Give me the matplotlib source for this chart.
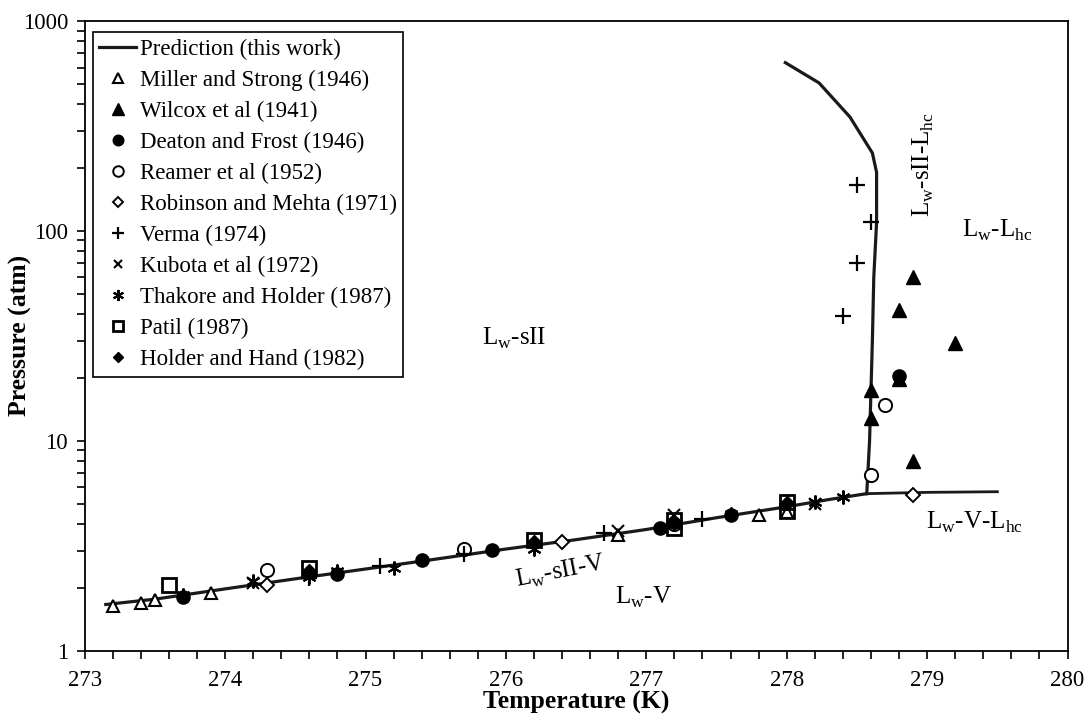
import matplotlib.pyplot as plt
from matplotlib.ticker import MultipleLocator, LogLocator, NullFormatter, FixedLocator
import numpy as np

plt.rcParams['font.family'] = ['Liberation Serif', 'DejaVu Serif']
plt.rcParams['mathtext.fontset'] = 'custom'
plt.rcParams['mathtext.rm'] = 'Liberation Serif'

# prediction curve (three branches)
pred_low_T = [273.15, 273.5, 274.0, 274.5, 275.0, 275.5, 276.0, 276.5, 277.0, 277.5, 278.0, 278.3, 278.57]
pred_low_P = [1.66, 1.76, 1.97, 2.2, 2.45, 2.73, 3.05, 3.38, 3.78, 4.3, 4.85, 5.25, 5.6]
pred_hc_T = [278.57, 279.0, 279.5]
pred_hc_P = [5.6, 5.68, 5.72]
pred_up_T = [278.57, 278.59, 278.61, 278.62, 278.64, 278.64, 278.61, 278.45, 278.23, 277.99]
pred_up_P = [5.6, 10, 30, 60, 110, 190, 235, 349, 507, 633]

# experimental data
miller_T = [273.2, 273.4, 273.5, 273.9, 276.8, 277.8, 278.0]
miller_P = [1.64, 1.69, 1.75, 1.88, 3.55, 4.45, 4.6]
wilcox_T = [278.6, 278.6, 278.8, 278.8, 278.9, 278.9, 279.2]
wilcox_P = [12.8, 17.5, 19.8, 42, 60.6, 8.0, 29.2]
deaton_T = [273.7, 274.8, 275.4, 275.9, 277.1, 277.6, 278.8]
deaton_P = [1.81, 2.33, 2.69, 3.03, 3.84, 4.45, 20.3]
reamer_T = [274.3, 275.7, 277.2, 278.6, 278.7]
reamer_P = [2.43, 3.05, 4.0, 6.9, 14.8]
robinson_T = [274.3, 276.4, 278.9]
robinson_P = [2.06, 3.28, 5.53]
verma_T = [274.6, 275.1, 275.7, 276.7, 277.4, 278.4, 278.5, 278.6, 278.5]
verma_P = [2.22, 2.52, 2.9, 3.63, 4.25, 39.1, 70.2, 110.8, 165.6]
kubota_T = [274.2, 276.8, 277.2, 278.2]
kubota_P = [2.1, 3.7, 4.45, 5.0]
thakore_T = [273.7, 274.2, 274.6, 274.8, 275.2, 276.2, 277.6, 278.2, 278.4]
thakore_P = [1.85, 2.15, 2.25, 2.4, 2.48, 3.05, 4.5, 5.1, 5.4]
patil_T = [273.6, 274.6, 276.2, 277.2, 277.2, 278.0, 278.0]
patil_P = [2.05, 2.48, 3.38, 4.2, 3.85, 5.1, 4.65]
holder_T = [274.6, 276.2, 277.2, 278.0]
holder_P = [2.4, 3.3, 4.05, 5.05]

fig, ax = plt.subplots(figsize=(10.86, 7.23), dpi=100)
fig.subplots_adjust(left=0.078, right=0.983, top=0.971, bottom=0.1)

ax.plot(pred_low_T, pred_low_P, color='#1a1a1a', lw=2.3, label='Prediction (this work)')
ax.plot(pred_hc_T, pred_hc_P, color='#1a1a1a', lw=2.0)
ax.plot(pred_up_T, pred_up_P, color='#1a1a1a', lw=2.3)

ms = 9
ax.plot(miller_T, miller_P, ls='none', marker='^', ms=ms, mfc='white', mec='black', mew=1.5,
        label='Miller and Strong (1946)')
ax.plot(wilcox_T, wilcox_P, ls='none', marker='^', ms=ms + 1, mfc='black', mec='black',
        label='Wilcox et al (1941)')
ax.plot(deaton_T, deaton_P, ls='none', marker='o', ms=ms + 0.5, mfc='black', mec='black',
        label='Deaton and Frost (1946)')
ax.plot(reamer_T, reamer_P, ls='none', marker='o', ms=ms + 0.5, mfc='white', mec='black', mew=1.4,
        label='Reamer et al (1952)')
ax.plot(robinson_T, robinson_P, ls='none', marker='D', ms=7, mfc='white', mec='black', mew=1.4,
        label='Robinson and Mehta (1971)')
ax.plot(verma_T, verma_P, ls='none', marker='+', ms=ms + 2, mec='black', mew=1.6,
        label='Verma (1974)')
ax.plot(kubota_T, kubota_P, ls='none', marker='x', ms=ms - 1, mec='black', mew=1.5,
        label='Kubota et al (1972)')
ax.plot(thakore_T, thakore_P, ls='none', marker=(6, 2, 0), ms=ms + 1, mec='black', mew=1.5,
        label='Thakore and Holder (1987)')
ax.plot(patil_T, patil_P, ls='none', marker='s', ms=ms + 0.5, mfc='none', mec='black', mew=2,
        label='Patil (1987)')
ax.plot(holder_T, holder_P, ls='none', marker='D', ms=7, mfc='black', mec='black',
        label='Holder and Hand (1982)')

ax.set_yscale('log')
ax.set_xlim(273, 280)
ax.set_ylim(1, 1000)
ax.xaxis.set_major_locator(MultipleLocator(1))
ax.xaxis.set_minor_locator(MultipleLocator(0.2))
ax.yaxis.set_major_locator(FixedLocator([1, 10, 100, 1000]))
ax.yaxis.set_minor_locator(LogLocator(base=10, subs=np.arange(2, 10)))
ax.yaxis.set_minor_formatter(NullFormatter())
ax.set_yticklabels(['1', '10', '100', '1000'])
ax.tick_params(which='both', direction='out', length=6, width=1.2, top=False, right=False,
               labelsize=16.5)
ax.tick_params(axis='x', which='major', pad=8)
ax.tick_params(axis='y', which='major', pad=6)
for s in ax.spines.values():
    s.set_linewidth(1.3)

ax.set_xlabel('Temperature (K)', fontsize=18.5, fontweight='bold', labelpad=0)
ax.set_ylabel('Pressure (atm)', fontsize=18.5, fontweight='bold')
ax.yaxis.set_label_coords(-0.054, 0.5)

tfs = 18
ax.text(276.06, 30.9, r'L$_\mathrm{w}$-sII', fontsize=tfs, ha='center', va='center')
ax.text(278.97, 206, r'L$_\mathrm{w}$-sII-L$_\mathrm{hc}$', fontsize=tfs, ha='center', va='center',
        rotation=90)
ax.text(279.5, 100, r'L$_\mathrm{w}$-L$_\mathrm{hc}$', fontsize=tfs, ha='center', va='center')
ax.text(279.34, 4.1, r'L$_\mathrm{w}$-V-L$_\mathrm{hc}$', fontsize=tfs, ha='center', va='center')
ax.text(276.39, 2.38, r'L$_\mathrm{w}$-sII-V', fontsize=tfs, ha='center', va='center', rotation=11)
ax.text(276.98, 1.79, r'L$_\mathrm{w}$-V', fontsize=tfs, ha='center', va='center')

leg = ax.legend(loc='upper left', bbox_to_anchor=(0.008, 0.983), fontsize=16.5, frameon=True,
                fancybox=False, edgecolor='black', framealpha=1, handlelength=1.6,
                handletextpad=0.15, labelspacing=0.43, borderpad=0.3, borderaxespad=0,
                markerscale=0.8)
leg.get_frame().set_linewidth(1.2)

fig.savefig('out.png', dpi=100)
